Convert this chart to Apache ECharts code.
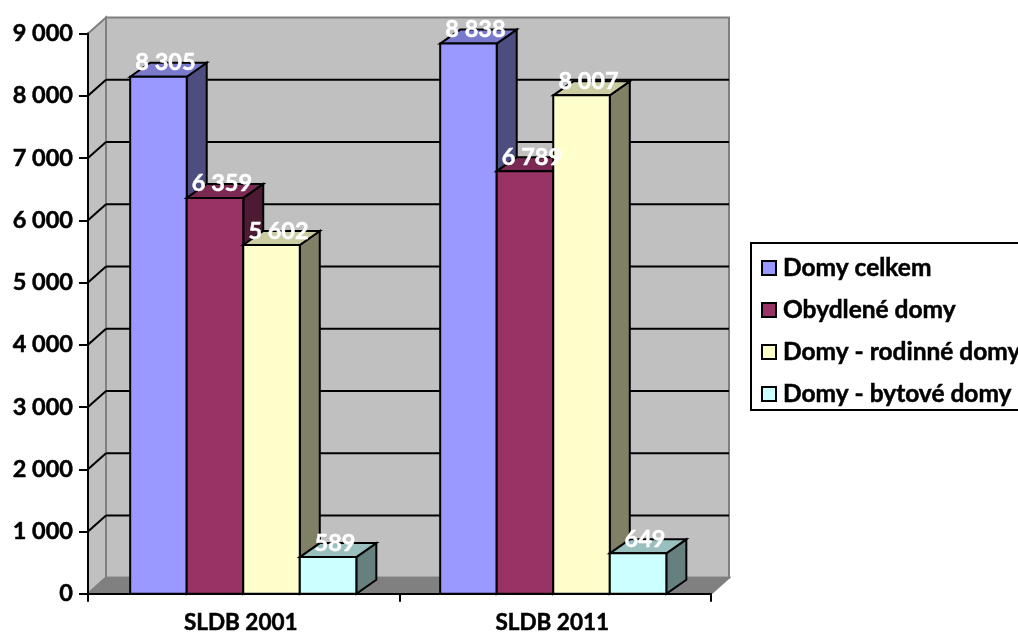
<!DOCTYPE html>
<html><head><meta charset="utf-8">
<style>html,body{margin:0;padding:0;background:#fff;overflow:hidden}#c{width:1018px;height:634px}</style>
<script src="https://cdn.jsdelivr.net/npm/echarts@6/dist/echarts.min.js"></script>
</head><body><div id="c"></div>
<script>
const categories = ['SLDB 2001', 'SLDB 2011'];
const domyCelkem = [8305, 8838];
const obydleneDomy = [6359, 6789];
const rodinneDomy = [5602, 8007];
const bytoveDomy = [589, 649];
const seriesNames = ['Domy celkem', 'Obydlené domy', 'Domy - rodinné domy', 'Domy - bytové domy'];
const faceColors = ['#9999FF', '#993366', '#FFFFCC', '#CCFFFF'];
const sideColors = ['#4D4D80', '#4D1A33', '#808066', '#668080'];
const topColors = ['#7A7ACC', '#7A2952', '#CCCCA3', '#99BFBF'];
const gridTicks = [1000, 2000, 3000, 4000, 5000, 6000, 7000, 8000, 9000];

const WALL_DX = 18, WALL_DY = 16, BAR_DX = 20, BAR_DY = 14, BAR_FRAC = 0.1815;
const GROUP_SHIFT = [-0.5, -2];
const FONT = '"Lato","Open Sans",sans-serif';
const fmt = v => String(v).replace(/\B(?=(\d{3})+$)/g, ' ');
const chart = echarts.init(document.getElementById('c'), null, {renderer: 'canvas'});

function wallItem(params, api) {
  const cs = params.coordSys;
  const L = cs.x, R = cs.x + cs.width, T = cs.y, B = cs.y + cs.height;
  const [dx, dy] = [WALL_DX, WALL_DY];
  return {type: 'group', children: [
    {type: 'polygon', shape: {points: [[L + dx, T - dy], [R + dx, T - dy], [R + dx, B - dy], [L + dx, B - dy]]},
     style: {fill: '#C0C0C0', stroke: '#808080', lineWidth: 2}},
    {type: 'polygon', shape: {points: [[L, T], [L + dx, T - dy], [L + dx, B - dy], [L, B]]},
     style: {fill: '#C0C0C0', stroke: '#808080', lineWidth: 2}},
    {type: 'polygon', shape: {points: [[L, B], [L + dx, B - dy], [R + dx, B - dy], [R, B]]},
     style: {fill: '#808080', stroke: '#808080', lineWidth: 2}}
  ]};
}
function gridItem(params, api) {
  const cs = params.coordSys;
  const y = api.coord([0, api.value(0)])[1];
  const L = cs.x, R = cs.x + cs.width;
  const ln = {stroke: '#000', lineWidth: 2};
  const isTop = api.value(0) === gridTicks[gridTicks.length - 1];
  if (isTop) return {type: 'group', children: []};
  return {type: 'group', children: [
    {type: 'line', shape: {x1: L, y1: y, x2: L + WALL_DX, y2: y - WALL_DY}, style: ln},
    {type: 'line', shape: {x1: L + WALL_DX, y1: y - WALL_DY, x2: R + WALL_DX, y2: y - WALL_DY}, style: ln}
  ]};
}
function barItem(i) {
  return function (params, api) {
    const c = api.value(0), v = api.value(1);
    const band = api.size([1, 0])[0];
    const w = band * BAR_FRAC;
    const p = api.coord([c, v]);
    const base = api.coord([c, 0]);
    const x0 = p[0] + GROUP_SHIFT[c] + (i - 2) * w, x1 = x0 + w, yT = p[1], yB = base[1];
    const ln = {stroke: '#000', lineWidth: 2, lineJoin: 'miter'};
    return {type: 'group', children: [
      {type: 'polygon', shape: {points: [[x1, yT], [x1 + BAR_DX, yT - BAR_DY], [x1 + BAR_DX, yB - BAR_DY], [x1, yB]]},
       style: Object.assign({fill: sideColors[i]}, ln)},
      {type: 'polygon', shape: {points: [[x0, yT], [x0 + BAR_DX, yT - BAR_DY], [x1 + BAR_DX, yT - BAR_DY], [x1, yT]]},
       style: Object.assign({fill: topColors[i]}, ln)},
      {type: 'polygon', shape: {points: [[x0, yT], [x1, yT], [x1, yB], [x0, yB]]},
       style: Object.assign({fill: faceColors[i]}, ln)},
      {type: 'text', z2: 100, style: {x: (x0 + x1) / 2 + 7, y: yT - 14, text: fmt(v), align: 'center', verticalAlign: 'middle',
        fill: '#fff', stroke: '#fff', lineWidth: 0.5, font: 'bold 23.5px ' + FONT}}
    ]};
  };
}
const values = [domyCelkem, obydleneDomy, rodinneDomy, bytoveDomy];
const heavy = {textBorderColor: '#000', textBorderWidth: 0.5};
chart.setOption({
  animation: false,
  backgroundColor: '#fff',
  grid: {left: 88, right: 307, top: 33.5, bottom: 39.5},
  legend: {
    orient: 'vertical', left: 751, top: 243, padding: [10, 14, 1, 10],
    borderColor: '#000', borderWidth: 2, backgroundColor: '#fff',
    itemWidth: 14, itemHeight: 14, itemGap: 12,
    data: seriesNames.map((n, i) => ({name: n, icon: 'rect',
      itemStyle: {color: faceColors[i], borderColor: '#000', borderWidth: 2}})),
    textStyle: Object.assign({color: '#000', fontFamily: FONT, fontWeight: 'bold', fontSize: 24.5, lineHeight: 28, padding: [2, 0, 0, 2]}, heavy),
    selectedMode: false
  },
  xAxis: {type: 'category', data: categories, z: 5,
    axisLine: {lineStyle: {color: '#000', width: 2}},
    axisTick: {show: true, length: 8, lineStyle: {color: '#000', width: 2}},
    splitLine: {show: false},
    axisLabel: Object.assign({color: '#000', fontFamily: FONT, fontWeight: 'bold', fontSize: 22.5, margin: 17, padding: [0, 6, 0, 0]}, heavy)},
  yAxis: {type: 'value', min: 0, max: 9000, interval: 1000, z: 5,
    axisLine: {show: true, lineStyle: {color: '#000', width: 2}},
    axisTick: {show: true, length: 9, lineStyle: {color: '#000', width: 2}},
    splitLine: {show: false},
    axisLabel: Object.assign({color: '#000', fontFamily: FONT, fontWeight: 'bold', fontSize: 23.5, margin: 15, formatter: fmt}, heavy)},
  series: [
    {type: 'custom', name: '_wall', z: 1, silent: true, renderItem: wallItem, data: [[0]], encode: {y: 0}, clip: false},
    {type: 'custom', name: '_grid', z: 1.5, silent: true, renderItem: gridItem, data: gridTicks.map(v => [v]), encode: {y: 0}, clip: false}
  ].concat(seriesNames.map((n, i) => ({
    type: 'custom', name: n, z: 3, renderItem: barItem(i), clip: false,
    itemStyle: {color: faceColors[i]},
    data: values[i].map((v, c) => [c, v]), encode: {x: 0, y: 1}
  })))
});
</script></body></html>
